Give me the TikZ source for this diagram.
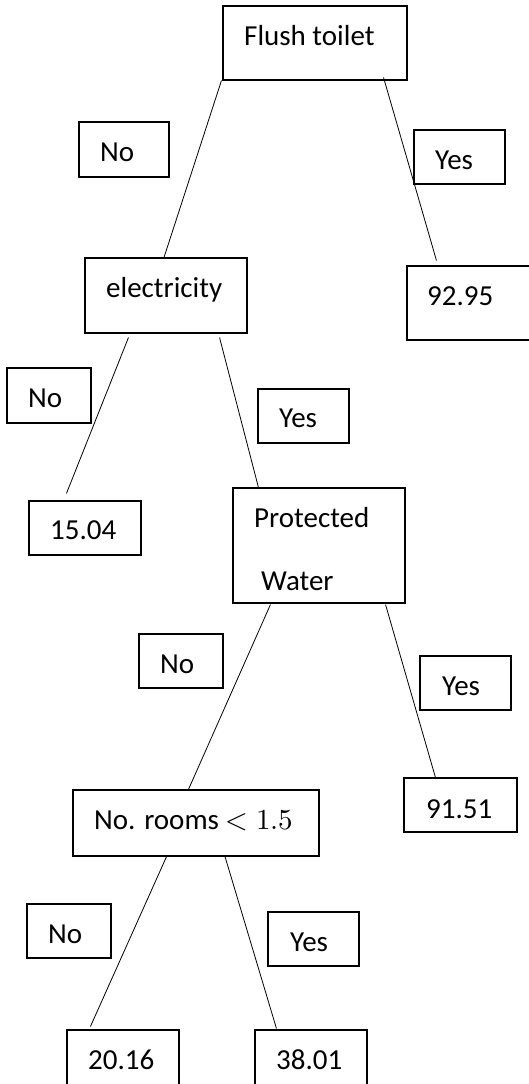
\documentclass[tikz,border=0pt]{standalone}
\usepackage{fontspec}
\usepackage{unicode-math}
\setmainfont{Carlito}
\begin{document}
\begin{tikzpicture}[x=1pt,y=-1pt]
\useasboundingbox (0,0) rectangle (528,1084);
\begin{scope}[every node/.style={rectangle,draw,line width=1.1pt,inner sep=0pt}]
    % tests and leaves
    \node[minimum width=184pt,minimum height=74pt] (flush) at (315,43) {};
    \node[minimum width=162pt,minimum height=75pt] (elec) at (166,295.5) {};
    \node[minimum width=136pt,minimum height=74pt] (v9295) at (475,303) {};
    \node[minimum width=112pt,minimum height=54pt] (v1504) at (85,528) {};
    \node[minimum width=172pt,minimum height=115pt] (prot) at (319,545.5) {};
    \node[minimum width=113pt,minimum height=54pt] (v9151) at (460.5,805) {};
    \node[minimum width=246pt,minimum height=66pt] (rooms) at (196,823) {};
    \node[minimum width=112pt,minimum height=60pt] (v2016) at (123,1060) {};
    \node[minimum width=112pt,minimum height=60pt] (v3801) at (311,1060) {};
    % branch labels
    \node[minimum width=90pt,minimum height=55pt] (no1) at (124,149.5) {};
    \node[minimum width=91pt,minimum height=54pt] (yes1) at (459.5,157) {};
    \node[minimum width=84pt,minimum height=55pt] (no2) at (49,395.5) {};
    \node[minimum width=91pt,minimum height=54pt] (yes2) at (303.5,416) {};
    \node[minimum width=84pt,minimum height=54pt] (no3) at (181,661) {};
    \node[minimum width=91pt,minimum height=54pt] (yes3) at (465.5,683) {};
    \node[minimum width=84pt,minimum height=54pt] (no4) at (69,931) {};
    \node[minimum width=91pt,minimum height=54pt] (yes4) at (313.5,939) {};
\end{scope}
\begin{scope}[every node/.style={anchor=base west,inner sep=0pt,font=\fontsize{29}{35}\selectfont}]
    \node (tflush) at (244,45) {Flush toilet};
    \node (telec) at (106,297) {electricity};
    \node (t9295) at (427,305) {92.95};
    \node (t1504) at (50,539) {15.04};
    \node (tprot) at (254,527) {Protected};
    \node (twater) at (261,590) {Water};
    \node (t9151) at (426,818) {91.51};
    \node (trooms) at (94,829) {No. rooms $<1.5$};
    \node (t2016) at (88,1069) {20.16};
    \node (t3801) at (276,1069) {38.01};
    \node (tno1) at (100,161) {No};
    \node (tyes1) at (435,169) {Yes};
    \node (tno2) at (28,407) {No};
    \node (tyes2) at (279,427) {Yes};
    \node (tno3) at (160,673) {No};
    \node (tyes3) at (442,695) {Yes};
    \node (tno4) at (48,943) {No};
    \node (tyes4) at (290,951) {Yes};
\end{scope}
\begin{scope}[every edge/.style={draw=black,line width=0.8pt}]
    % no / yes branches
    \path ([shift={(-1,0)}]flush.south west) edge ([shift={(-2,0)}]elec.north);
    \path ([shift={(-24,-3)}]flush.south east) edge ([shift={(30,-5)}]v9295.north west);
    \path ([shift={(44,4)}]elec.south west) edge ([shift={(38,-7)}]v1504.north west);
    \path ([shift={(-28,4)}]elec.south east) edge ([shift={(26,0)}]prot.north west);
    \path ([shift={(38,1)}]prot.south west) edge ([shift={(116,0)}]rooms.north west);
    \path ([shift={(-20,1)}]prot.south east) edge ([shift={(32,0)}]v9151.north west);
    \path ([shift={(-29,-1)}]rooms.south) edge ([shift={(24,-3)}]v2016.north west);
    \path ([shift={(29,0)}]rooms.south) edge ([shift={(22,-1)}]v3801.north west);
\end{scope}
\end{tikzpicture}
\end{document}
